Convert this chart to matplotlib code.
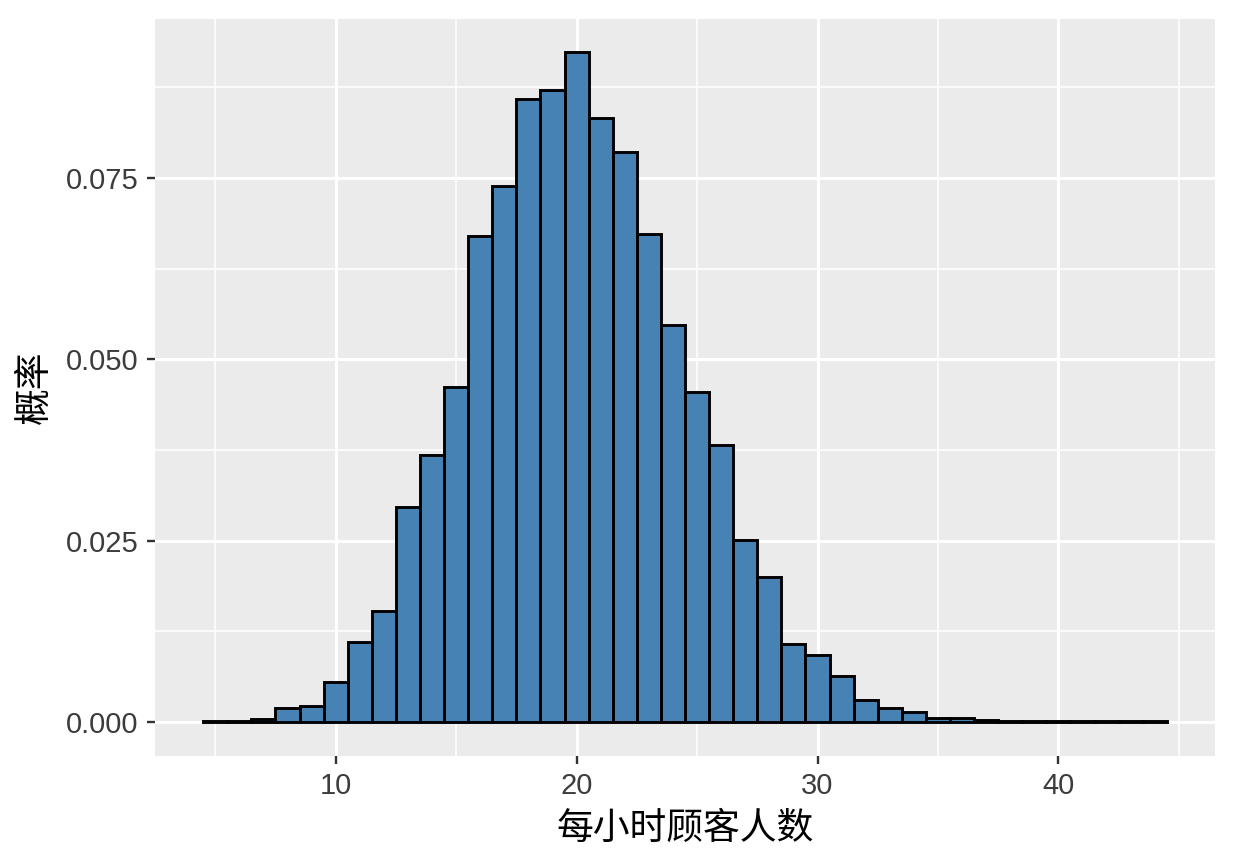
import matplotlib
matplotlib.use('Agg')
import matplotlib.pyplot as plt
from matplotlib.ticker import MultipleLocator

plt.rcParams['font.family'] = ['Liberation Sans', 'Noto Sans CJK SC', 'DejaVu Sans']

# histogram bins (width 1), centres and probability per bin
bin_centers = list(range(5, 45))
probs = [0.0001, 0.0001, 0.0004, 0.0019, 0.0022, 0.0055, 0.0110, 0.0153, 0.0296, 0.0368,
         0.0462, 0.0670, 0.0739, 0.0859, 0.0871, 0.0924, 0.0833, 0.0786, 0.0673, 0.0547,
         0.0455, 0.0382, 0.0251, 0.0200, 0.0108, 0.0092, 0.0063, 0.0030, 0.0019, 0.0014,
         0.0005, 0.0006, 0.0003, 0.0002, 0.0001, 0.0002, 0.0001, 0.0001, 0.0001, 0.0002]
x_ticks = [10, 20, 30, 40]
y_ticks = [0.000, 0.025, 0.050, 0.075]
y_tick_labels = ['0.000', '0.025', '0.050', '0.075']

fig = plt.figure(figsize=(12.34, 8.64), dpi=100)
ax = fig.add_axes([155 / 1234, 108 / 864, 1060 / 1234, 737 / 864])
ax.set_facecolor('#EBEBEB')

ax.bar(bin_centers, probs, width=1.0, color='#4682B4', edgecolor='black',
       linewidth=2.1, zorder=3)

ax.set_xlim(2.5, 46.5)
ax.set_ylim(-0.00469, 0.09693)
ax.set_xticks(x_ticks)
ax.set_yticks(y_ticks)
ax.set_yticklabels(y_tick_labels)
ax.xaxis.set_minor_locator(MultipleLocator(5))
ax.yaxis.set_minor_locator(MultipleLocator(0.0125))

ax.grid(which='major', color='white', linewidth=2.2, zorder=0)
ax.grid(which='minor', color='white', linewidth=1.1, zorder=0)
ax.set_axisbelow(True)
for s in ax.spines.values():
    s.set_visible(False)

ax.tick_params(which='major', direction='out', length=5.8, width=1.7, color='#333333',
               labelsize=21, labelcolor='#3C3C3C', pad=6)
ax.tick_params(which='minor', length=0)

ax.set_xlabel('每小时顾客人数', fontsize=26.5, family='Noto Sans CJK SC', color='black', labelpad=6)
ax.set_ylabel('概率', fontsize=26.5, family='Noto Sans CJK SC', color='black', labelpad=9)

fig.savefig('out.png', dpi=100, facecolor='white')
